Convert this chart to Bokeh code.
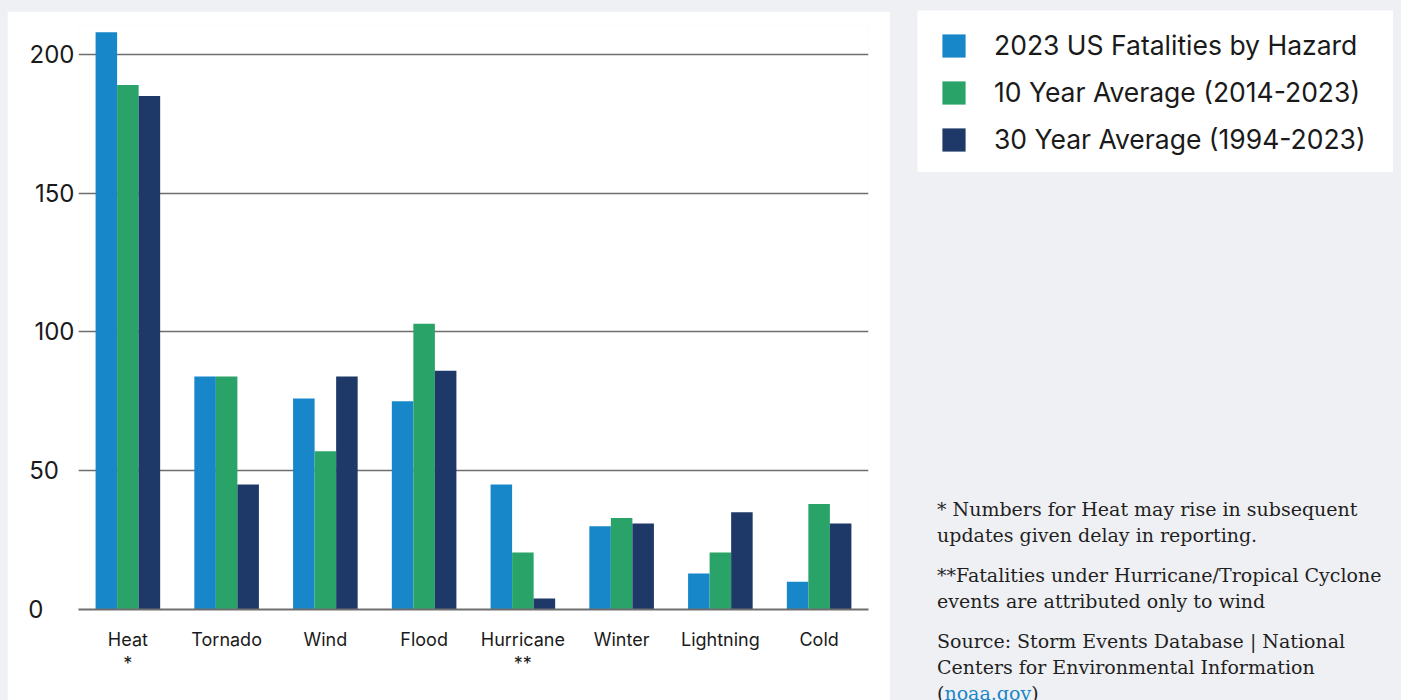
from bokeh.plotting import figure
from bokeh.models import Range1d, FixedTicker, Legend, LegendItem, ColumnDataSource, Div, LinearAxis
from bokeh.transform import dodge
from bokeh.layouts import row, column
from bokeh.embed import file_html
from bokeh.resources import INLINE

categories = ["Heat", "Tornado", "Wind", "Flood", "Hurricane", "Winter", "Lightning", "Cold"]
tick_notes = ["*", "", "", "", "**", "", "", ""]
fatal_2023 = [208, 84, 76, 75, 45, 30, 13, 10]
avg_10yr = [189, 84, 57, 103, 20.5, 33, 20.5, 38]
avg_30yr = [185, 45, 84, 86, 4, 31, 35, 31]
series_names = ["2023 US Fatalities by Hazard", "10 Year Average (2014-2023)", "30 Year Average (1994-2023)"]
series_keys = ["fatal_2023", "avg_10yr", "avg_30yr"]
colors = ["#1787c9", "#2aa368", "#1e3868"]
y_ticks = [0, 50, 100, 150, 200]
y_tick_labels = ["0\u2007\u2007", "50\u2007", "100", "150", "200"]

AXIS_FONT = "Inter"

x_pos = list(range(len(categories)))
source = ColumnDataSource(dict(x=x_pos, cat=categories, fatal_2023=fatal_2023,
                               avg_10yr=avg_10yr, avg_30yr=avg_30yr))

p = figure(x_range=Range1d(-0.5, len(categories) - 0.5), y_range=(0, 210.45),
           width=883, height=689, output_backend="svg", toolbar_location=None,
           min_border_left=71, min_border_right=22, min_border_top=14, min_border_bottom=91,
           margin=(11, 0, 0, 7), outline_line_color=None,
           background_fill_color="white", border_fill_color="white")

bw = 0.218
for i, (key, col) in enumerate(zip(series_keys, colors)):
    p.vbar(x=dodge("x", (i - 1) * bw), top=key, width=bw,
           source=source, fill_color=col, line_color=None)

p.xgrid.grid_line_color = None
p.ygrid.grid_line_color = "#6e6e6e"
p.ygrid.grid_line_width = 1.5
p.yaxis.ticker = FixedTicker(ticks=y_ticks)
p.yaxis.major_label_overrides = dict(zip(y_ticks, y_tick_labels))
p.yaxis.axis_line_color = None
p.yaxis.major_tick_line_color = None
p.yaxis.minor_tick_line_color = None
p.yaxis.major_label_text_font = AXIS_FONT
p.yaxis.major_label_text_font_size = "24px"
p.yaxis.major_label_text_color = "#1a1a1a"
p.yaxis.major_label_standoff = -2

p.xaxis.ticker = FixedTicker(ticks=x_pos)
p.xaxis.major_label_overrides = dict(zip(x_pos, categories))
p.xaxis.axis_line_color = "#6e6e6e"
p.xaxis.axis_line_width = 2
p.xaxis.major_tick_line_color = None
p.xaxis.minor_tick_line_color = None
p.xaxis.major_tick_out = 0
p.xaxis.major_label_standoff = 19
p.xaxis.major_label_text_font = AXIS_FONT
p.xaxis.major_label_text_font_size = "18px"
p.xaxis.major_label_text_color = "#1a1a1a"

note_ticks = [x for x, n in zip(x_pos, tick_notes) if n]
note_axis = LinearAxis(ticker=FixedTicker(ticks=note_ticks),
                       major_label_overrides={x: n for x, n in zip(x_pos, tick_notes) if n},
                       axis_line_color=None, major_tick_line_color=None, minor_tick_line_color=None,
                       major_tick_out=0, major_label_standoff=0, major_label_text_font=AXIS_FONT,
                       major_label_text_font_size="18px", major_label_text_color="#1a1a1a")
p.add_layout(note_axis, "below")

# legend panel
lf = figure(width=476, height=162, x_range=(0, 1), y_range=(0, 1), x_axis_type=None, y_axis_type=None,
            output_backend="svg", toolbar_location=None, min_border=0,
            margin=(10, 0, 0, 27), outline_line_color=None,
            background_fill_color="white", border_fill_color="white")
lf.xgrid.visible = False
lf.ygrid.visible = False
nan = float("nan")
items = []
for name, col in zip(series_names, colors):
    r = lf.quad(left=[nan], right=[nan], top=[nan], bottom=[nan], fill_color=col, line_color=None)
    items.append(LegendItem(label=name, renderers=[r]))
leg = Legend(items=items, location=(22, 17), padding=0, margin=0,
             glyph_width=29, glyph_height=29, label_height=23, label_standoff=26, spacing=15,
             label_text_font=AXIS_FONT, label_text_font_size="26.5px", label_text_color="#1a1a1a",
             border_line_color=None, background_fill_alpha=0)
lf.add_layout(leg, "center")

notes = Div(text="""
<div style="font-family:'DejaVu Serif'; font-size:19px; line-height:26px; color:#1f1f1f; white-space:nowrap;">
<div style="margin:0 0 14px 0">* Numbers for Heat may rise in subsequent<br>updates given delay in reporting.</div>
<div style="margin:0 0 14px 0">**Fatalities under Hurricane/Tropical Cyclone<br>events are attributed only to wind</div>
<div>Source: Storm Events Database | National<br>Centers for Environmental Information<br>(<span style="color:#1a86c8">noaa.gov</span>)</div>
</div>""", width=456, height=204, margin=(324, 0, 0, 47))

right = column(lf, notes, spacing=0)
page = row(p, right, spacing=0, width=1401, height=700,
           styles={"background-color": "#eff0f4", "overflow": "hidden"})

open("out.html", "w").write(file_html(page, INLINE))
